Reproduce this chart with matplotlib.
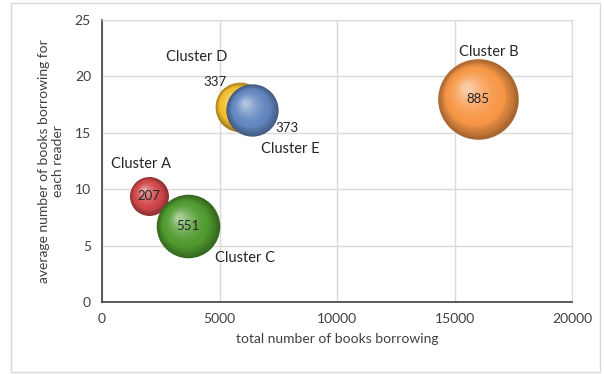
import matplotlib
matplotlib.use("Agg")
import matplotlib.pyplot as plt
import matplotlib.colors as mcolors
from matplotlib.transforms import offset_copy
from matplotlib.patches import Rectangle
import numpy as np

# data
clusters = ["Cluster A", "Cluster B", "Cluster C", "Cluster D", "Cluster E"]
total_borrowing = [2000, 16000, 3650, 5850, 6400]
avg_per_reader = [9.4, 18.0, 6.7, 17.3, 17.0]
bubble_sizes = [207, 885, 551, 337, 373]

colors = ["#D0474A", "#F79646", "#4F9A2E", "#F2BE2C", "#6286BF"]
# label offsets (points) relative to bubble centre: name, size label
name_offsets = [(-6, 23), (8, 34), (41, -23), (-31, 36), (27, -28)]
size_offsets = [(0, 0), (0, 0), (0, 0), (-18, 18), (25, -13)]

plt.rcParams["font.family"] = ["Lato", "DejaVu Sans"]
text_color = "#404040"

fig = plt.figure(figsize=(6.04, 3.74), dpi=100)
fig.patches.append(Rectangle((0.018, 0.006), 0.975, 0.985, transform=fig.transFigure,
                             fill=False, edgecolor="#D9D9D9", linewidth=1.0))
ax = fig.add_axes([0.169, 0.1925, 0.778, 0.7545])

max_r_pt = 29.0  # radius in points of the largest bubble


def shade(c, t):
    base = np.array(mcolors.to_rgb(c))
    dark = base * 0.68
    light = base + (1 - base) * 0.5
    if t < 0.3:
        return dark + (base - dark) * (t / 0.3)
    return base + (light - base) * ((t - 0.3) / 0.7) ** 1.6


n_layers = 18
for i in range(len(clusters)):
    x, y, s = total_borrowing[i], avg_per_reader[i], bubble_sizes[i]
    r = max_r_pt * np.sqrt(s / max(bubble_sizes))
    for k in range(n_layers):
        t = k / (n_layers - 1)
        f = 1 - 0.88 * t
        dx, dy = -0.28 * r * t, 0.28 * r * t
        tr = offset_copy(ax.transData, fig=fig, x=dx, y=dy, units="points")
        ax.scatter([x], [y], s=(2 * r * f) ** 2, color=shade(colors[i], t),
                   transform=tr, zorder=3 + i, linewidths=0, alpha=1.0)
    ax.annotate(str(s), (x, y), xytext=size_offsets[i], textcoords="offset points",
                ha="center", va="center", fontsize=9.5, color="#262626", zorder=20)
    ax.annotate(clusters[i], (x, y), xytext=name_offsets[i], textcoords="offset points",
                ha="center", va="center", fontsize=10.5, color="#262626", zorder=20)

ax.set_xlim(0, 20000)
ax.set_ylim(0, 25)
ax.set_xticks([0, 5000, 10000, 15000, 20000])
ax.set_yticks([0, 5, 10, 15, 20, 25])
ax.grid(True, color="#D9D9D9", linewidth=1.0, zorder=0)
ax.set_axisbelow(True)
for side in ["top", "right"]:
    ax.spines[side].set_color("#D9D9D9")
ax.spines["left"].set_color("#404040")
ax.spines["bottom"].set_color("#404040")
ax.spines["left"].set_linewidth(1.2)
ax.spines["bottom"].set_linewidth(1.2)
ax.tick_params(length=0, labelsize=10, colors=text_color, pad=8)
ax.set_xlabel("total number of books borrowing", fontsize=10, color=text_color, labelpad=6)
ax.set_ylabel("average number of books borrowing for\neach reader", fontsize=10,
              color=text_color, labelpad=8)

fig.savefig("out.png", dpi=100)
